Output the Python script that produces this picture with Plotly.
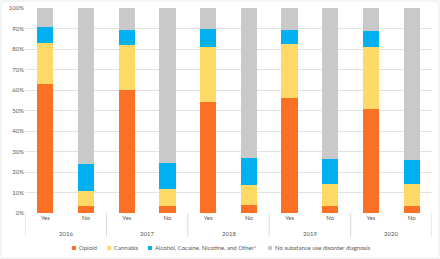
import plotly.graph_objects as go

years = ["2016", "2017", "2018", "2019", "2020"]
groups = ["Yes", "No"] * 5
opioid = [63, 3.5, 60, 3.5, 54, 4, 56, 3.5, 50.5, 3.5]
cannabis = [20, 7, 22, 8, 27, 9.5, 26.5, 10.5, 30.5, 10.5]
alcohol = [7.5, 13.5, 7.5, 13, 9, 13.5, 7, 12.5, 8, 12]
none_dx = [9.5, 76, 10.5, 75.5, 10, 73, 10.5, 73.5, 11, 74]
y_ticks = [0, 10, 20, 30, 40, 50, 60, 70, 80, 90, 100]
series_names = ["Opioid", "Cannabis", "Alcohol, Cocaine, Nicotine, and Other*",
                "No substance use disorder diagnosis"]
colors = ["#FA7125", "#FFD966", "#00B0F0", "#C9C9C9"]

W, H = 440, 259
L, R, T, B = 25, 8, 8, 46
PW, PH = W - L - R, H - T - B
TXT = "#595959"
FONT = "Lato"
FS = 6

xpos = list(range(len(groups)))

fig = go.Figure()
for name, vals, color in zip(series_names, [opioid, cannabis, alcohol, none_dx], colors):
    fig.add_trace(go.Bar(x=xpos, y=vals, name=name, width=0.4,
                         marker=dict(color=color, line=dict(width=0)),
                         showlegend=False))

shapes = []
annotations = []
# group dividers below the axis
for i in range(len(years) + 1):
    xd = -0.5 + 2 * i
    shapes.append(dict(type="line", xref="x", yref="paper", x0=xd, x1=xd,
                       y0=0, y1=-24 / PH, line=dict(color="#D9D9D9", width=1)))
# year labels
for i, yr in enumerate(years):
    annotations.append(dict(x=2 * i + 0.5, y=-20.5 / PH, xref="x", yref="paper",
                            text=yr, showarrow=False, xanchor="center", yanchor="middle",
                            font=dict(family=FONT, size=FS, color=TXT)))
# manual legend (small square markers)
leg_x = [74, 109.3, 150, 270]
leg_y = -(248 - (T + PH)) / PH
for lx, name, color in zip(leg_x, series_names, colors):
    px0 = (lx - 2 - L) / PW
    px1 = (lx + 2 - L) / PW
    shapes.append(dict(type="rect", xref="paper", yref="paper",
                       x0=px0, x1=px1, y0=leg_y - 2 / PH, y1=leg_y + 2 / PH,
                       fillcolor=color, line=dict(width=0)))
    annotations.append(dict(x=(lx + 2.5 - L) / PW, y=leg_y, xref="paper", yref="paper",
                            text=name, showarrow=False, xanchor="left", yanchor="middle",
                            font=dict(family=FONT, size=FS, color=TXT)))
# faint chart border
shapes.append(dict(type="rect", xref="paper", yref="paper",
                   x0=-(L - 1) / PW, x1=1 + (R - 1) / PW, y0=-(B - 1) / PH, y1=1 + (T - 1) / PH,
                   line=dict(color="#EBEBEB", width=1)))

fig.update_layout(
    width=W, height=H,
    barmode="stack",
    margin=dict(l=L, r=R, t=T, b=B, autoexpand=False),
    paper_bgcolor="white", plot_bgcolor="white",
    font=dict(family=FONT, size=FS, color=TXT),
    hovermode=False,
    xaxis=dict(range=[-0.5, 9.5], tickvals=xpos, ticktext=groups, automargin=False,
               showgrid=False, zeroline=False, showline=False, ticks="",
               tickfont=dict(family=FONT, size=FS, color=TXT), fixedrange=True),
    yaxis=dict(range=[0, 100], tickvals=y_ticks, automargin=False,
               ticktext=[f"{v}%" for v in y_ticks],
               showgrid=True, gridcolor="#E3E3E3", gridwidth=1,
               zeroline=False, ticks="", ticklen=0, fixedrange=True,
               tickfont=dict(family=FONT, size=FS, color=TXT)),
    shapes=shapes,
    annotations=annotations,
)

fig.write_html("out.html",
               config={"displayModeBar": False, "staticPlot": True},
               post_script="document.body.style.margin='0';document.body.style.padding='0';")
